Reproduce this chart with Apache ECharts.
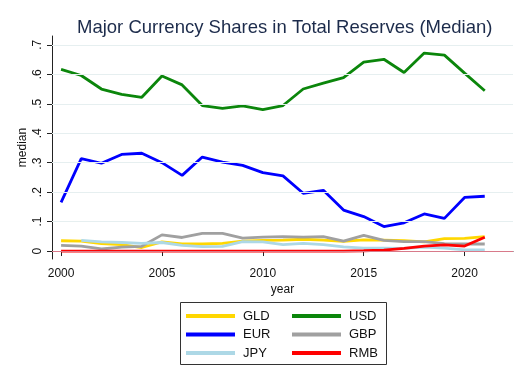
<!DOCTYPE html>
<html>
<head>
<meta charset="utf-8">
<script src="https://cdn.jsdelivr.net/npm/echarts@6/dist/echarts.min.js"></script>
<style>html,body{margin:0;padding:0;background:#fff}#c{width:527px;height:384px}</style>
</head>
<body>
<div id="c"></div>
<script>
const years = [2000,2001,2002,2003,2004,2005,2006,2007,2008,2009,2010,2011,2012,2013,2014,2015,2016,2017,2018,2019,2020,2021];
const GLD = [0.035,0.034,0.025,0.022,0.012,0.031,0.024,0.024,0.026,0.034,0.036,0.037,0.040,0.037,0.033,0.038,0.037,0.035,0.031,0.042,0.043,0.049];
const USD = [0.617,0.596,0.550,0.532,0.522,0.594,0.564,0.494,0.484,0.493,0.480,0.494,0.550,0.570,0.589,0.641,0.651,0.606,0.672,0.665,0.604,0.544];
const EUR = [0.165,0.314,0.298,0.328,0.332,0.300,0.257,0.319,0.302,0.291,0.266,0.255,0.196,0.206,0.139,0.117,0.083,0.096,0.126,0.111,0.182,0.186];
const GBP = [0.019,0.017,0.007,0.013,0.016,0.055,0.046,0.060,0.060,0.044,0.047,0.049,0.047,0.049,0.034,0.053,0.036,0.032,0.032,0.025,0.024,0.024];
const JPY = [null,0.036,0.031,0.029,0.026,0.029,0.019,0.015,0.016,0.032,0.031,0.022,0.026,0.022,0.014,0.010,0.010,0.009,0.013,0.010,0.004,0.004];
const RMB = [0,0,0,0,0,0,0,0,0,0,0,0,0,0,0,0.001,0.003,0.009,0.017,0.021,0.017,0.047];
const seriesNames = ['GLD','USD','EUR','GBP','JPY','RMB'];
const seriesData = {GLD, USD, EUR, GBP, JPY, RMB};
const colors = {GLD:'#ffd700', USD:'#0b860b', EUR:'#0000ff', GBP:'#a0a0a0', JPY:'#add8e6', RMB:'#ff0000'};
const xTicks = [2000,2005,2010,2015,2020];
const yTicks = [0,0.1,0.2,0.3,0.4,0.5,0.6,0.7];

const font = '"Liberation Sans", Arial, sans-serif';
const chart = echarts.init(document.getElementById('c'), null, {renderer:'canvas'});

const lineSeries = seriesNames.map(n => ({
  name: n, type: 'line', showSymbol: false, symbol: 'none',
  data: years.map((y,i) => [y, seriesData[n][i]]),
  lineStyle: {color: colors[n], width: 2.8},
  itemStyle: {color: colors[n]},
  connectNulls: false, z: 3
}));

const gridSeries = {
  type: 'line', data: [], silent: true, z: 1,
  markLine: {
    silent: true, symbol: 'none', label: {show:false},
    animation: false,
    data: yTicks.map(v => v === 0
      ? {yAxis: v, lineStyle: {color:'#d87a8a', width:1, type:'solid'}}
      : {yAxis: v, lineStyle: {color:'#e6eff0', width:1.2, type:'solid'}})
  }
};

const legendCommon = {
  orient: 'vertical', icon: 'rect', itemWidth: 49, itemHeight: 4, itemGap: 4.5,
  top: 304, textStyle: {fontFamily: font, fontSize: 13, color:'#111', lineHeight: 14, padding:[0,0,0,3]},
  selectedMode: false
};

chart.setOption({
  animation: false,
  backgroundColor: '#fff',
  title: {
    text: 'Major Currency Shares in Total Reserves (Median)',
    left: 72, top: 13,
    textStyle: {fontFamily: font, fontSize: 18.5, fontWeight: 'normal', color: '#1c2b4b'}
  },
  grid: {left: 52, right: 14, top: 36, bottom: 125, containLabel: false},
  xAxis: {
    type: 'value', min: 1999.55, max: 2022.4,
    name: 'year', nameLocation: 'middle', nameGap: 24.5, nameMoveOverlap: false,
    nameTextStyle: {fontFamily: font, fontSize: 12, color:'#111'},
    axisLine: {show: true, lineStyle: {color:'#222', width: 1}},
    axisTick: {show: true, length: 5, customValues: xTicks, lineStyle: {color:'#222'}},
    axisLabel: {customValues: xTicks, margin: 9, fontFamily: font, fontSize: 12, color:'#111', formatter: v => String(v)},
    splitLine: {show: false}
  },
  yAxis: {
    type: 'value', min: -0.027, max: 0.73,
    name: 'median', nameLocation: 'middle', nameGap: 23, nameRotate: 90, nameMoveOverlap: false,
    nameTextStyle: {fontFamily: font, fontSize: 12, color:'#111'},
    axisLine: {show: true, lineStyle: {color:'#222', width: 1}},
    axisTick: {show: true, length: 5, customValues: yTicks, lineStyle: {color:'#222'}},
    axisLabel: {customValues: yTicks, rotate: 90, margin: 8, fontFamily: font, fontSize: 12, color:'#111',
      formatter: v => v === 0 ? '0' : (Math.round(v*10)/10).toString().replace(/^0\./, '.')},
    splitLine: {show: false}
  },
  legend: [
    Object.assign({}, legendCommon, {left: 181, data: ['GLD','EUR','JPY']}),
    Object.assign({}, legendCommon, {left: 287, data: ['USD','GBP','RMB']})
  ],
  graphic: [{
    type: 'rect', shape: {x: 180.5, y: 302.5, width: 206, height: 62},
    style: {fill: 'none', stroke: '#333', lineWidth: 1}, silent: true
  }],
  series: [gridSeries].concat(lineSeries)
});
</script>
</body>
</html>
